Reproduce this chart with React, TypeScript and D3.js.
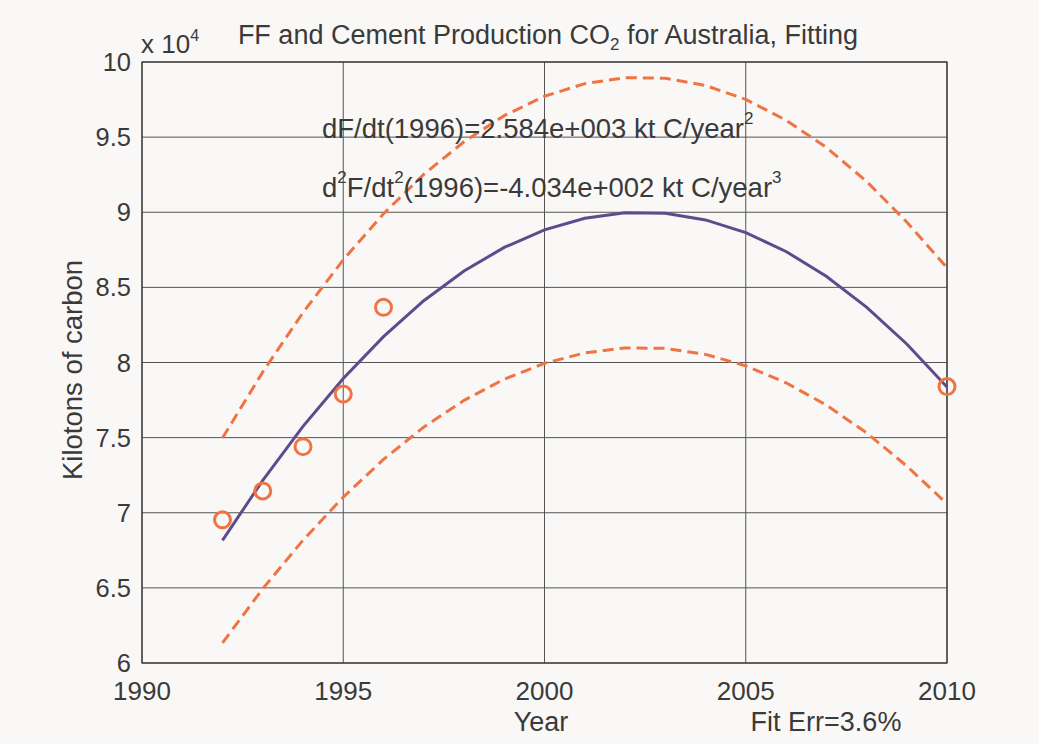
import React from "react";
import * as d3 from "d3";

// Annual fossil-fuel + cement CO2 emissions for Australia (kt C)
const obsYears = [1992, 1993, 1994, 1995, 1996, 2010];
const obsValues = [69530, 71450, 74400, 77900, 83670, 78400];

// Quadratic fit evaluated at each year, with ±10% envelope
const fitYears = [1992, 1993, 1994, 1995, 1996, 1997, 1998, 1999, 2000, 2001, 2002, 2003, 2004, 2005, 2006, 2007, 2008, 2009, 2010];
const fitValues = [68160, 72160, 75750, 78940, 81720, 84110, 86090, 87660, 88830, 89600, 89970, 89930, 89490, 88640, 87390, 85740, 83690, 81230, 78370];
const upperValues = [74980, 79370, 83320, 86830, 89900, 92520, 94690, 96430, 97720, 98560, 98960, 98920, 98440, 97510, 96130, 94320, 92060, 89350, 86300];
const lowerValues = [61340, 64940, 68170, 71040, 73550, 75700, 77480, 78890, 79950, 80640, 80970, 80940, 80540, 79780, 78650, 77170, 75320, 73110, 70600];

const xTicks = [1990, 1995, 2000, 2005, 2010];
const yTicks = [6, 6.5, 7, 7.5, 8, 8.5, 9, 9.5, 10];

const W = 1039;
const H = 744;
const M = { left: 142, right: 947, top: 62, bottom: 663 };
const FONT = "'Liberation Sans', Arial, sans-serif";
const TEXT = "#3a3a3a";
const ORANGE = "#f07442";
const PURPLE = "#5f4b8b";

export default function App() {
  const x = d3.scaleLinear().domain([1990, 2010]).range([M.left, M.right]);
  const y = d3.scaleLinear().domain([6, 10]).range([M.bottom, M.top]);
  const ys = (v: number) => y(v / 10000);

  const line = d3
    .line<[number, number]>()
    .x((d) => x(d[0]))
    .y((d) => ys(d[1]));

  const fitPts = fitYears.map((t, i) => [t, fitValues[i]] as [number, number]);
  const upPts = fitYears.map((t, i) => [t, upperValues[i]] as [number, number]);
  const loPts = fitYears.map((t, i) => [t, lowerValues[i]] as [number, number]);

  return (
    <div style={{ position: "absolute", left: 0, top: 0 }}>
      <svg width={W} height={H} style={{ display: "block", background: "#f9f8f7" }} fontFamily={FONT}>
        <rect x={0} y={0} width={W} height={H} fill="#f9f8f7" />
        {/* grid */}
        {yTicks.map((v) => (
          <line key={"gy" + v} x1={M.left} x2={M.right} y1={y(v)} y2={y(v)} stroke="#555" strokeWidth={1} />
        ))}
        {xTicks.map((v) => (
          <line key={"gx" + v} x1={x(v)} x2={x(v)} y1={M.top} y2={M.bottom} stroke="#555" strokeWidth={1} />
        ))}
        <rect x={M.left} y={M.top} width={M.right - M.left} height={M.bottom - M.top} fill="none" stroke="#333" strokeWidth={1.2} />

        {/* tick labels */}
        {yTicks.map((v) => (
          <text key={"ty" + v} x={M.left - 11} y={y(v) + 9} textAnchor="end" fontSize={25.5} fill={TEXT}>
            {String(v)}
          </text>
        ))}
        {xTicks.map((v) => (
          <text key={"tx" + v} x={x(v)} y={700} textAnchor="middle" fontSize={26} fill={TEXT}>
            {String(v)}
          </text>
        ))}
        <text x={141} y={53} fontSize={26} fill={TEXT}>
          x 10<tspan dy={-12} fontSize={16}>4</tspan>
        </text>

        {/* title and axis labels */}
        <text x={548} y={44} textAnchor="middle" fontSize={27} fill={TEXT}>
          FF and Cement Production CO<tspan dy={6} fontSize={17}>2</tspan>
          <tspan dy={-6}> for Australia, Fitting</tspan>
        </text>
        <text x={541} y={731} textAnchor="middle" fontSize={27} fill={TEXT}>Year</text>
        <text x={826} y={731} textAnchor="middle" fontSize={27} fill={TEXT}>Fit Err=3.6%</text>
        <text transform={`translate(82,370) rotate(-90)`} textAnchor="middle" fontSize={27.5} fill={TEXT}>
          Kilotons of carbon
        </text>

        {/* envelope and fit */}
        <path d={line(upPts) || ""} fill="none" stroke={ORANGE} strokeWidth={3} strokeDasharray="11,6" />
        <path d={line(loPts) || ""} fill="none" stroke={ORANGE} strokeWidth={3} strokeDasharray="11,6" />
        <path d={line(fitPts) || ""} fill="none" stroke={PURPLE} strokeWidth={3} />

        {/* observations */}
        {obsYears.map((t, i) => (
          <circle key={"o" + t} cx={x(t)} cy={ys(obsValues[i])} r={8} fill="none" stroke={ORANGE} strokeWidth={3} />
        ))}

        {/* derivative annotations */}
        <text x={322} y={138} fontSize={27.5} fill={TEXT}>
          dF/dt(1996)=2.584e+003 kt C/year<tspan dy={-14} fontSize={17}>2</tspan>
        </text>
        <text x={322} y={197} fontSize={27.5} fill={TEXT}>
          d<tspan dy={-14} fontSize={17}>2</tspan>
          <tspan dy={14}>F/dt</tspan>
          <tspan dy={-14} fontSize={17}>2</tspan>
          <tspan dy={14}>(1996)=-4.034e+002 kt C/year</tspan>
          <tspan dy={-14} fontSize={17}>3</tspan>
        </text>
      </svg>
    </div>
  );
}
